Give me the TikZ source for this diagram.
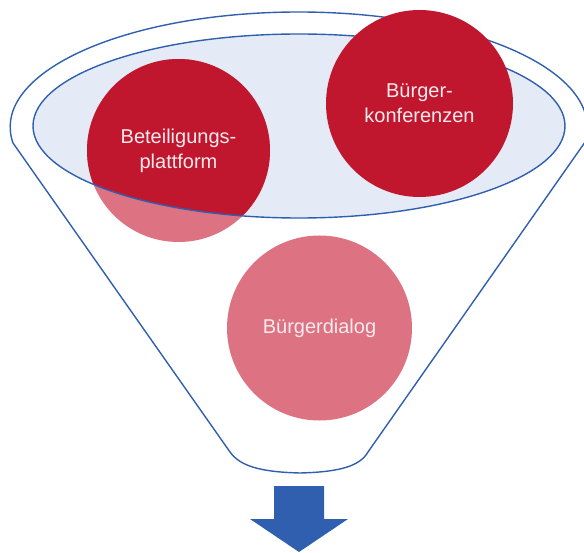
\documentclass[tikz,border=0pt]{standalone}
\usepackage{fontspec}
\setmainfont{Liberation Sans}
\definecolor{fblue}{RGB}{47,95,174}
\definecolor{lightfill}{RGB}{228,235,246}
\definecolor{darkred}{RGB}{192,23,47}
\definecolor{pinkc}{RGB}{220,114,130}
\definecolor{txt}{RGB}{248,234,237}
\begin{document}
\begin{tikzpicture}[x=1pt,y=-1pt,
  outline/.style={draw=fblue,line width=1.4pt},
  bubble/.style={circle,minimum size=183pt,inner sep=0pt},
  label/.style={text=txt,font=\fontsize{20}{25}\selectfont,align=center}]
\useasboundingbox (0,0) rectangle (584,553);
% funnel outline
\draw[outline,line join=round] (13,143) arc[start angle=172,end angle=368,x radius=288.5,y radius=115]
  -- (368,452) .. controls (360,466) and (340,472) .. (300,473)
  .. controls (260,472) and (240,466) .. (230,452) -- cycle;
% inner ellipse fill
\fill[lightfill] (299,126) ellipse [x radius=266,y radius=92];
% Beteiligungsplattform
\node[bubble,fill=pinkc] (bet) at (178.5,150.5) {};
\begin{scope}
  \clip (299,126) ellipse [x radius=266,y radius=92];
  \fill[darkred] (bet.center) circle (91.5);
\end{scope}
\draw[outline] (299,126) ellipse [x radius=266,y radius=92];
\node[label] (bettext) at (bet.center) {Beteiligungs-\\plattform};
% Buergerkonferenzen
\node[bubble,fill=darkred,minimum size=187pt,label] (konf) at (419.5,103.5) {Bürger-\\konferenzen};
% Buergerdialog
\node[bubble,fill=pinkc,minimum size=185pt,label] (dial) at (319.5,328) {Bürgerdialog};
% arrow
\fill[fblue] (274,486) -- (324,486) -- (324,519) -- (348,519) -- (299,552) -- (250,519) -- (274,519) -- cycle;
\end{tikzpicture}
\end{document}
